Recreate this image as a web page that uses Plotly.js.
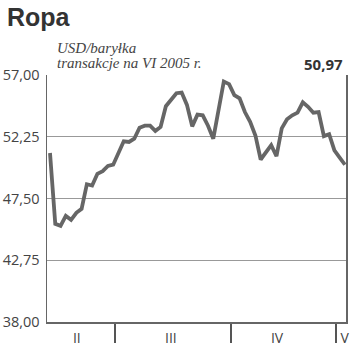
<!DOCTYPE html>
<html>
<head>
<meta charset="utf-8">
<script src="https://cdn.plot.ly/plotly-3.0.1.min.js"></script>
<style>html,body{margin:0;padding:0;background:#fff;}#chart{width:350px;height:355px;}</style>
</head>
<body>
<div id="chart"></div>
<script>
// Daily oil prices (USD/barrel), mid-Feb to early May 2005, one per trading day
var prices = [51.0, 45.55, 45.4, 46.16, 45.86, 46.4, 46.7, 48.6, 48.5, 49.4, 49.6, 50.0, 50.1,
  51.0, 51.9, 51.85, 52.1, 52.95, 53.1, 53.1, 52.7, 53.0, 54.6, 55.1, 55.6, 55.65, 54.7, 53.05,
  53.95, 53.9, 53.1, 52.1, 54.3, 56.5,
  56.3, 55.45, 55.2, 54.15, 53.4, 52.35, 50.5, 51.0, 51.6, 50.75, 52.9, 53.6, 53.9, 54.1, 54.9,
  54.55, 54.1, 54.15, 52.3, 52.45, 51.2, 50.65, 50.1];
var dayIndex = prices.map(function(_, i){ return i; });
var monthBoundaries = [12.35, 34.35, 54.3];
var monthLabelPos = [5.1, 22.95, 43.1, 55.95];
var monthLabels = ['II', 'III', 'IV', 'V'];
var yTicks = [38, 42.75, 47.5, 52.25, 57];
var title = 'Ropa';
var unitText = 'USD/baryłka';
var noteText = 'transakcje na VI 2005 r.';
var lastValueText = '50,97';

var xRange = [-0.57, 56.2];
var trace = {
  x: dayIndex, y: prices, type: 'scatter', mode: 'lines',
  line: {color: '#666666', width: 3.8, shape: 'linear'},
  hoverinfo: 'skip', showlegend: false
};
var dummy = {x: [monthLabelPos[0]], y: [40], xaxis: 'x2', yaxis: 'y', mode: 'markers',
  marker: {opacity: 0}, showlegend: false, hoverinfo: 'skip'};

var layout = {
  width: 350, height: 355,
  margin: {l: 47, r: 4, t: 75, b: 33, pad: 0},
  paper_bgcolor: '#fff', plot_bgcolor: '#fff',
  separators: ',.',
  showlegend: false,
  xaxis: {
    range: xRange, showgrid: false, zeroline: false,
    tickmode: 'array', tickvals: monthBoundaries, ticktext: ['', '', ''],
    ticks: 'outside', ticklen: 19, tickwidth: 1.5, tickcolor: '#555',
    showline: true, linecolor: '#666', linewidth: 1.5, fixedrange: true
  },
  xaxis2: {
    overlaying: 'x', anchor: 'y', side: 'bottom', range: xRange,
    showgrid: false, zeroline: false, showline: false,
    tickmode: 'array', tickvals: monthLabelPos, ticktext: monthLabels,
    ticks: '', ticklabelstandoff: 6,
    tickfont: {family: 'Open Sans, DejaVu Sans, sans-serif', size: 14, color: '#444444'}
  },
  yaxis: {
    range: [38, 57], tickmode: 'array', tickvals: yTicks, tickformat: '.2f',
    showgrid: true, gridcolor: '#999', gridwidth: 1.2, zeroline: false,
    showline: true, linecolor: '#666', linewidth: 1.5, mirror: true,
    ticks: '', ticklabelstandoff: 3,
    tickfont: {family: 'Open Sans, DejaVu Sans, sans-serif', size: 14.5, color: '#444'},
    fixedrange: true
  },
  annotations: [
    {text: '<b>' + title + '</b>', xref: 'paper', yref: 'paper', x: -0.1405, y: 1.233,
     xanchor: 'left', yanchor: 'middle', showarrow: false,
     font: {family: 'Liberation Sans, Arial, sans-serif', size: 25, color: '#333'}},
    {text: '<i>' + unitText + '</i>', xref: 'paper', yref: 'paper', x: 0.026, y: 1.11,
     xanchor: 'left', yanchor: 'middle', showarrow: false,
     font: {family: 'Liberation Serif, DejaVu Serif, serif', size: 15, color: '#444'}},
    {text: '<i>' + noteText + '</i>', xref: 'paper', yref: 'paper', x: 0.026, y: 1.047,
     xanchor: 'left', yanchor: 'middle', showarrow: false,
     font: {family: 'Liberation Serif, DejaVu Serif, serif', size: 15, color: '#444'}},
    {text: '<b>' + lastValueText + '</b>', xref: 'paper', yref: 'paper', x: 0.997, y: 1.045,
     xanchor: 'right', yanchor: 'middle', showarrow: false,
     font: {family: 'Open Sans, DejaVu Sans, sans-serif', size: 15, color: '#333'}}
  ]
};
Plotly.newPlot('chart', [trace, dummy], layout, {staticPlot: true, displayModeBar: false});
</script>
</body>
</html>
